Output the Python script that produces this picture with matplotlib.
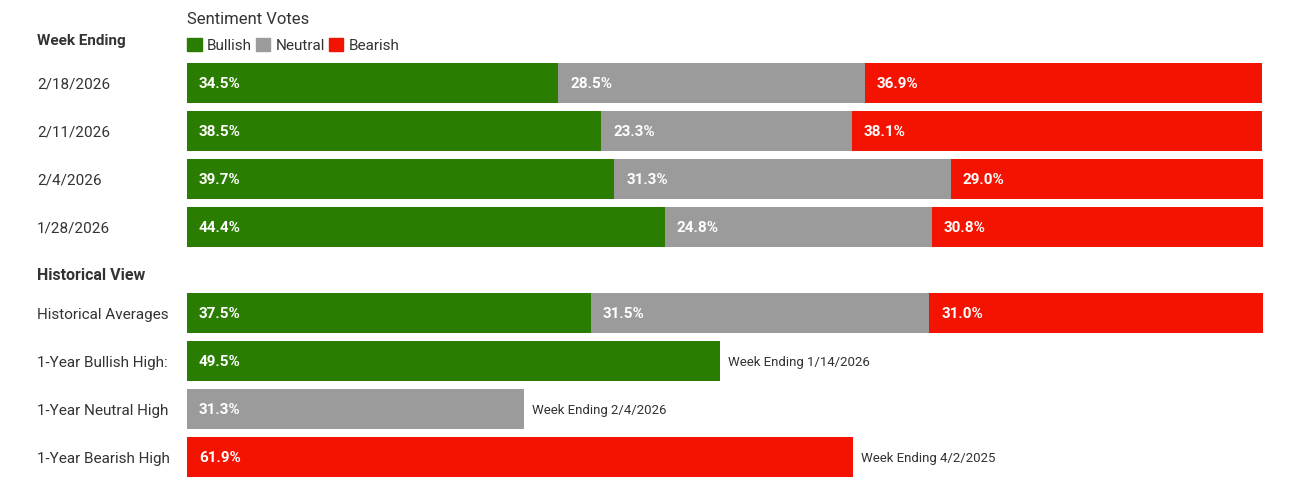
import matplotlib.pyplot as plt
from matplotlib import transforms
from matplotlib.patches import Patch

plt.rcParams['font.family'] = ['Roboto', 'DejaVu Sans']

weeks = ["2/18/2026", "2/11/2026", "2/4/2026", "1/28/2026"]
bullish = [34.5, 38.5, 39.7, 44.4]
neutral = [28.5, 23.3, 31.3, 24.8]
bearish = [36.9, 38.1, 29.0, 30.8]

hist_avg = [37.5, 31.5, 31.0]
high_labels = ["1-Year Bullish High:", "1-Year Neutral High", "1-Year Bearish High"]
high_values = [49.5, 31.3, 61.9]
high_dates = ["Week Ending 1/14/2026", "Week Ending 2/4/2026", "Week Ending 4/2/2025"]

GREEN = "#2a7d00"
GRAY = "#9b9b9b"
RED = "#f41200"
TXT = "#333333"
colors = [GREEN, GRAY, RED]

W, H = 1291, 487
fig = plt.figure(figsize=(W / 100, H / 100), dpi=100)
ax = fig.add_axes([187 / W, 0, 1076 / W, 1])
ax.set_xlim(0, 100)
ax.set_ylim(H, 0)
ax.axis("off")

bar_h = 40
dy = 1.5  # nudge text down a touch to sit centred like the original
week_y = [83 + 48 * i for i in range(len(weeks))]
hist_y = [313 + 48 * i for i in range(1 + len(high_values))]

# left-side labels use figure-x / data-y
lab_tr = transforms.blended_transform_factory(fig.transFigure, ax.transData)
lx = 37 / W


def inside_label(x, y, v):
    ax.annotate(f"{v:.1f}%", (x, y + dy), xytext=(8.6, 0), textcoords="offset points",
                ha="left", va="center", color="white", fontsize=11,
                fontweight="bold")


def stacked_row(y, vals):
    left = 0
    for v, c in zip(vals, colors):
        ax.barh(y, v, left=left, height=bar_h, color=c)
        inside_label(left, y, v)
        left += v


for y, lab, b, n, r in zip(week_y, weeks, bullish, neutral, bearish):
    stacked_row(y, [b, n, r])
    ax.text(lx, y + dy, lab, transform=lab_tr, ha="left", va="center",
            fontsize=11, color=TXT)

stacked_row(hist_y[0], hist_avg)
ax.text(lx, hist_y[0] + dy, "Historical Averages", transform=lab_tr, ha="left",
        va="center", fontsize=11, color=TXT)

for y, lab, v, c, d in zip(hist_y[1:], high_labels, high_values, colors, high_dates):
    ax.barh(y, v, height=bar_h, color=c)
    inside_label(0, y, v)
    ax.annotate(d, (v, y + dy), xytext=(5.8, 0), textcoords="offset points",
                ha="left", va="center", color=TXT, fontsize=9.5)
    ax.text(lx, y + dy, lab, transform=lab_tr, ha="left", va="center",
            fontsize=11, color=TXT)

# section headers
ax.text(lx, 41, "Week Ending", transform=lab_tr, ha="left", va="center",
        fontsize=11, fontweight="bold", color=TXT)
ax.text(lx, 275, "Historical View", transform=lab_tr, ha="left", va="center",
        fontsize=11.5, fontweight="bold", color=TXT)
ax.text(0, 19, "Sentiment Votes", ha="left", va="center", fontsize=12,
        color=TXT)

handles = [Patch(color=c, label=l) for c, l in zip(colors, ["Bullish", "Neutral", "Bearish"])]
ax.legend(handles=handles, loc="upper left", bbox_to_anchor=(0.0, 1 - 38 / H),
          ncol=3, frameon=False, fontsize=11, handlelength=0.95, handleheight=0.95,
          handletextpad=0.35, columnspacing=0.25, borderpad=0, borderaxespad=0,
          labelcolor=TXT)

fig.savefig("out.png", dpi=100)
